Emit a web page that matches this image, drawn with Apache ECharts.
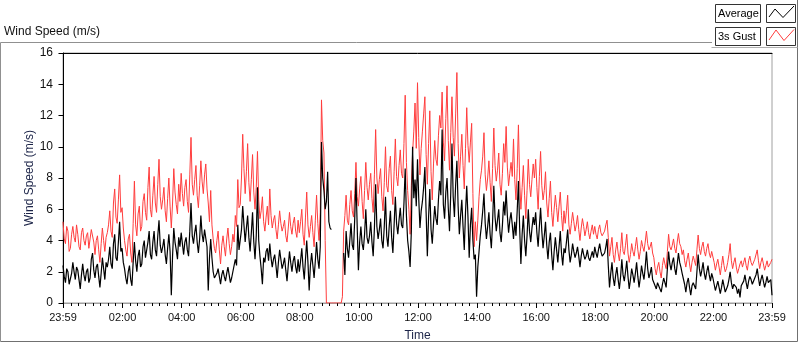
<!DOCTYPE html>
<html>
<head>
<meta charset="utf-8">
<script src="https://cdn.jsdelivr.net/npm/echarts@6/dist/echarts.min.js"></script>
<style>
html, body { margin: 0; padding: 0; background: #fff; }
#chart { width: 800px; height: 342px; }
</style>
</head>
<body>
<div id="chart"></div>
<script>
// 3s gust (m/s), one value every 2.5 minutes from 23:59 to 23:59, one row per hour
const gust = [
    5.2, 4.1, 3.8, 4.9, 4.6, 3.3, 3.5, 4.4, 4.9, 4.2, 3.9, 5.0, 4.4, 3.6, 3.4, 4.5, 4.8, 4.0, 3.7, 4.3, 4.5, 3.5, 3.6, 4.7,
    4.7, 3.9, 3.1, 4.0, 4.3, 3.4, 2.6, 3.8, 4.8, 4.0, 3.3, 4.2, 4.5, 5.0, 5.9, 4.6, 4.2, 6.4, 7.3, 5.5, 5.1, 6.6, 8.2, 5.8,
    6.1, 4.8, 4.0, 3.4, 3.0, 4.1, 4.4, 3.2, 2.6, 5.1, 7.8, 5.0, 4.3, 5.7, 6.2, 4.6, 4.9, 6.5, 7.0, 5.8, 5.3, 7.4, 8.7, 6.0,
    5.5, 6.9, 8.1, 6.4, 5.8, 7.6, 9.2, 6.8, 6.0, 6.6, 7.4, 5.9, 5.2, 6.7, 8.0, 6.2, 4.8, 6.4, 8.6, 7.1, 6.3, 5.7, 7.6, 6.5,
    8.3, 7.0, 6.2, 7.4, 7.9, 6.5, 5.8, 8.2, 10.6, 7.6, 6.9, 7.9, 8.8, 6.9, 6.1, 7.5, 9.1, 7.8, 7.0, 8.2, 8.9, 7.3, 6.4, 5.2,
    7.2, 5.0, 4.1, 3.5, 3.2, 4.0, 4.6, 3.4, 2.5, 3.7, 4.3, 3.6, 3.0, 4.1, 4.8, 3.8, 3.1, 3.6, 4.4, 3.9, 5.6, 4.9, 7.9, 6.1,
    6.3, 8.0, 10.8, 8.6, 7.0, 8.4, 10.2, 7.7, 6.5, 7.9, 9.5, 7.1, 6.0, 7.4, 9.7, 6.6, 5.4, 5.9, 6.8, 5.2, 4.6, 5.5, 6.2, 5.0,
    7.3, 5.6, 4.8, 5.3, 5.6, 4.7, 4.1, 5.0, 5.9, 5.1, 4.6, 4.9, 5.3, 4.3, 3.9, 4.8, 5.8, 4.9, 4.4, 5.1, 5.5, 4.6, 4.2, 5.3,
    4.5, 5.2, 6.0, 4.4, 3.7, 5.5, 7.1, 5.0, 4.2, 4.9, 5.6, 4.5, 3.6, 5.3, 6.9, 5.1, 4.0, 5.8, 13.0, 10.4, 9.6, 4.0, 0, 0,
    0, 0, 0, 0, 0, 0, 0, 0, 0, 0, 0, 0.4, 4.6, 5.6, 6.9, 5.3, 5.0, 6.3, 7.2, 5.9, 5.5, 7.0, 9.0, 6.8,
    6.2, 7.3, 8.1, 6.5, 5.4, 7.2, 9.0, 7.4, 6.6, 7.6, 8.3, 6.7, 5.8, 8.2, 11.1, 8.0, 7.0, 7.9, 8.6, 6.8, 5.9, 7.7, 10.0, 7.5,
    7.1, 8.6, 9.4, 7.2, 6.3, 8.4, 10.5, 8.1, 7.5, 8.8, 9.8, 8.3, 8.0, 10.2, 13.3, 9.0, 7.2, 6.0, 4.4, 7.5, 9.6, 11.0, 12.8, 9.9,
    14.1, 10.6, 8.2, 9.9, 11.0, 12.1, 13.2, 9.5, 7.6, 10.2, 12.3, 8.4, 6.6, 8.9, 10.4, 9.2, 8.8, 10.7, 12.0, 11.2, 13.5, 10.3, 9.1, 11.8,
    13.9, 10.4, 8.5, 10.9, 13.2, 10.6, 9.4, 12.1, 14.75, 10.2, 8.0, 9.4, 10.8, 8.8, 7.3, 9.9, 12.5, 10.1, 9.0, 10.3, 11.5, 7.0, 3.6, 5.2,
    4.0, 5.3, 6.8, 7.9, 8.5, 9.4, 10.9, 8.2, 7.2, 8.0, 9.1, 7.7, 6.5, 8.6, 11.2, 8.8, 7.8, 8.5, 9.6, 7.6, 6.9, 8.3, 10.2, 9.0,
    11.3, 8.7, 7.5, 8.3, 9.0, 8.1, 10.5, 7.9, 6.6, 8.6, 11.4, 7.8, 6.0, 7.4, 8.8, 6.9, 5.4, 7.2, 9.2, 7.6, 6.8, 7.9, 8.9, 8.0,
    9.2, 7.4, 6.0, 8.1, 9.7, 7.5, 6.6, 7.2, 8.4, 6.4, 5.5, 6.7, 7.8, 5.8, 4.9, 6.0, 6.9, 6.1, 5.2, 6.2, 7.1, 5.6, 4.6, 5.9,
    5.1, 5.9, 6.9, 5.0, 4.4, 5.1, 5.8, 5.2, 4.6, 5.0, 5.6, 4.7, 4.0, 4.8, 5.4, 4.9, 4.3, 4.7, 5.2, 4.5, 4.1, 4.6, 5.0, 4.4,
    4.9, 4.4, 4.1, 4.7, 5.0, 4.5, 4.3, 4.4, 4.6, 5.0, 5.3, 4.2, 3.0, 3.6, 4.2, 3.1, 2.6, 3.4, 3.9, 3.2, 2.7, 3.5, 4.5, 3.3,
    3.1, 3.7, 4.4, 3.2, 2.6, 3.1, 3.8, 3.3, 3.0, 3.6, 4.2, 3.4, 2.8, 3.3, 4.0, 3.6, 3.3, 3.9, 4.6, 3.8, 3.4, 3.6, 3.9, 3.2,
    2.9, 2.2, 1.8, 2.3, 2.6, 2.0, 1.6, 2.4, 2.9, 2.5, 2.2, 3.3, 4.4, 3.6, 3.4, 3.7, 4.1, 3.5, 3.2, 3.9, 4.45, 3.8, 3.6, 3.1,
    3.4, 2.7, 2.3, 2.8, 3.2, 2.5, 2.0, 2.6, 3.0, 2.7, 2.4, 3.4, 4.35, 3.5, 3.1, 3.6, 3.9, 3.3, 3.0, 3.5, 3.8, 3.2, 2.9, 3.3,
    3.2, 2.6, 2.1, 2.5, 2.8, 2.3, 1.8, 2.4, 3.0, 2.4, 2.0, 2.2, 2.6, 3.1, 3.8, 2.7, 2.2, 2.6, 2.9, 2.3, 1.9, 2.2, 2.5, 2.7,
    2.3, 2.6, 2.9, 2.4, 2.1, 2.7, 3.0, 2.6, 2.4, 2.5, 2.8, 2.9, 3.4, 2.7, 2.2, 2.6, 2.9, 2.5, 2.1, 2.4, 2.7, 2.3, 2.4, 2.6, 2.8
]

// average wind speed (m/s), same sample times; null = no reading
const average = [
    2.4, 1.7, 1.3, 2.2, 2.0, 1.2, 1.1, 1.9, 2.6, 2.0, 1.5, 2.3, 2.1, 1.5, 0.9, 1.8, 2.5, 1.8, 1.4, 2.0, 2.2, 1.3, 1.6, 2.8,
    3.2, 2.1, 1.6, 2.3, 2.5, 1.7, 1.0, 1.9, 2.9, 2.2, 1.5, 2.6, 2.3, 2.8, 3.6, 2.5, 2.2, 3.8, 4.4, 2.9, 2.7, 3.9, 5.2, 3.3,
    3.5, 2.6, 2.2, 1.6, 1.2, 2.0, 2.4, 1.5, 1.1, 2.6, 3.9, 2.7, 2.0, 3.0, 3.4, 2.3, 2.5, 3.6, 4.0, 2.9, 2.8, 3.9, 4.6, 3.1,
    2.8, 3.9, 4.6, 3.4, 3.0, 4.3, 5.3, 3.7, 3.2, 3.6, 4.1, 3.1, 2.5, 3.5, 4.4, 3.3, 0.5, 3.0, 4.8, 3.9, 3.4, 2.8, 4.2, 3.6,
    4.5, 3.8, 3.1, 3.9, 4.2, 3.4, 3.0, 4.6, 6.4, 4.3, 3.8, 4.5, 5.0, 3.9, 3.2, 4.1, 5.6, 4.4, 3.9, 4.7, 4.8, 3.6, 0.8, 2.9,
    4.1, 2.9, 2.0, 1.6, 1.5, 1.9, 2.2, 1.7, 1.2, 1.8, 2.1, 1.7, 1.4, 1.9, 2.3, 1.8, 1.3, 1.6, 2.0, 1.9, 2.8, 2.4, 5.0, 3.4,
    3.4, 4.7, 6.2, 5.0, 3.9, 4.8, 5.6, 4.2, 3.3, 4.5, 5.8, 3.9, 2.8, 4.3, 7.4, 4.0, 3.0, 2.2, 1.2, 2.9, 2.6, 3.3, 3.5, 2.7,
    3.8, 2.9, 2.3, 2.8, 3.1, 2.4, 1.6, 2.6, 3.4, 2.8, 2.2, 2.5, 2.9, 2.1, 1.4, 2.4, 3.3, 2.6, 2.0, 2.7, 3.0, 2.3, 1.9, 2.8,
    2.0, 2.7, 3.5, 2.3, 1.5, 2.8, 4.0, 2.6, 0.8, 2.4, 3.2, 2.4, 1.6, 2.7, 3.9, 2.8, 2.2, 3.6, 10.3, 8.0, 7.2, 6.0, 6.5, 8.4,
    5.2, 4.8, 4.7, null, null, null, null, null, null, null, null, null, 3.2, 1.8, 4.6, 3.5, 2.9, 4.0, 5.1, 3.7, 3.4, 5.4, 8.0, 4.9,
    2.1, 3.9, 4.9, 3.8, 3.4, 4.4, 6.0, 4.2, 3.8, 4.3, 5.2, 3.9, 3.0, 4.8, 7.6, 4.9, 4.1, 4.7, 5.4, 4.0, 3.5, 4.9, 6.8, 4.3,
    3.6, 4.9, 5.9, 4.2, 3.2, 5.0, 6.8, 5.1, 4.4, 5.3, 6.1, 5.0, 4.8, 6.4, 8.6, 5.6, 4.0, 3.3, 2.3, 4.6, 10.0, 6.7, 7.9, 6.2,
    9.2, 6.7, 4.8, 5.9, 6.5, 7.4, 8.7, 5.8, 3.0, 5.5, 7.3, 4.7, 3.8, 5.1, 6.2, 5.4, 5.0, 6.6, 7.8, 6.9, 11.1, 6.3, 5.4, 7.1,
    8.0, 6.1, 4.6, 7.0, 10.2, 6.8, 5.5, 7.6, 9.1, 6.2, 4.4, 5.6, 6.6, 4.9, 3.4, 5.8, 7.5, 5.5, 2.9, 5.0, 6.1, 4.0, 2.8, 3.1,
    0.4, 2.3, 3.3, 4.3, 5.0, 5.9, 7.0, 5.1, 4.1, 4.9, 5.8, 4.4, 3.5, 5.2, 7.5, 5.5, 4.6, 5.3, 6.0, 4.5, 3.9, 5.0, 6.5, 5.6,
    7.2, 5.6, 4.5, 5.3, 5.8, 5.0, 4.1, 5.2, 4.3, 5.9, 7.8, 4.8, 2.5, 4.4, 5.6, 4.0, 3.0, 4.3, 6.0, 4.6, 3.9, 4.8, 5.5, 5.0,
    5.8, 4.5, 3.6, 4.9, 6.1, 4.6, 3.5, 4.3, 5.2, 3.7, 2.8, 3.9, 4.5, 3.1, 2.1, 3.3, 4.2, 3.4, 2.6, 3.6, 4.6, 3.2, 2.4, 3.5,
    3.2, 3.9, 4.7, 3.4, 2.6, 3.1, 3.8, 3.3, 2.9, 3.2, 3.6, 3.0, 2.3, 3.0, 3.5, 3.1, 2.8, 3.0, 3.4, 2.9, 2.7, 3.0, 3.3, 2.9,
    3.6, 3.2, 2.9, 3.4, 3.8, 3.3, 3.0, 3.1, 3.2, 3.6, 4.1, 2.4, 1.0, 1.9, 2.6, 1.6, 1.1, 1.8, 2.3, 1.5, 0.9, 1.7, 2.8, 1.8,
    1.4, 2.0, 2.7, 1.7, 0.9, 1.5, 2.2, 1.8, 1.3, 1.9, 2.6, 1.7, 1.0, 1.6, 2.4, 1.9, 1.5, 2.3, 3.3, 2.2, 1.6, 1.9, 2.3, 1.5,
    1.4, 1.1, 0.9, 1.3, 1.2, 0.9, 0.7, 1.2, 1.6, 1.3, 1.0, 2.2, 3.3, 2.5, 2.1, 2.6, 2.9, 2.2, 1.8, 2.5, 3.2, 2.6, 2.3, 1.9,
    1.8, 1.2, 0.7, 1.3, 1.6, 1.0, 0.5, 1.1, 1.3, 1.2, 0.9, 2.0, 3.1, 2.2, 1.7, 2.1, 2.6, 1.9, 1.5, 2.0, 2.4, 1.8, 1.4, 1.9,
    1.6, 1.2, 0.8, 1.1, 1.4, 1.0, 0.6, 1.0, 1.5, 1.1, 0.7, 0.9, 1.1, 1.5, 2.0, 1.3, 0.9, 1.2, 1.3, 1.0, 0.6, 0.9, 0.35, 1.1,
    1.0, 1.4, 1.8, 1.3, 0.9, 1.4, 1.7, 1.5, 1.2, 1.3, 1.6, 1.8, 2.2, 1.6, 1.1, 1.5, 1.8, 1.4, 1.0, 1.3, 1.7, 1.3, 1.2, 1.5, 0.5
]

// minutes after midnight; 23:59 of the previous day is -1
const sampleMinutes = gust.map((_, i) => i * 2.5 - 1)

const timeTicks = [-1, 120, 240, 360, 480, 600, 720, 840, 960, 1080, 1200, 1320, 1439]
const timeLabels = ["23:59", "02:00", "04:00", "06:00", "08:00", "10:00", "12:00",
    "14:00", "16:00", "18:00", "20:00", "22:00", "23:59"]

// small ticks every quarter hour
const quarterTicks = []
for (let m = 15; m < 1439; m += 15) {
    if (m % 120 !== 0) quarterTicks.push(m)
}

const font = "Liberation Sans"
const inkColor = "#111"
const nameColor = "#1c2448"
const gustColor = "#ff3d3d"

const chart = echarts.init(document.getElementById("chart"), null, { renderer: "canvas" })

chart.setOption({
    animation: false,
    textStyle: { fontFamily: font },
    grid: {
        left: 63,
        right: 28,
        top: 53,
        bottom: 39,
        outerBoundsMode: "none",
        show: true,
        borderColor: "#a0a0a0",
        borderWidth: 1,
    },
    xAxis: [
        {
            type: "value",
            min: -1,
            max: 1439,
            name: "Time",
            nameLocation: "middle",
            nameGap: 27,
            nameMoveOverlap: false,
            nameTextStyle: { color: nameColor, fontSize: 12, fontFamily: font },
            axisLine: { show: true, lineStyle: { color: "#a0a0a0", width: 1 } },
            axisTick: { show: true, customValues: timeTicks, length: 5, lineStyle: { color: "#000" } },
            axisLabel: {
                customValues: timeTicks,
                margin: 9,
                color: inkColor,
                fontSize: 11,
                fontFamily: font,
                formatter: v => timeLabels[timeTicks.indexOf(Math.round(v))] ?? "",
            },
            splitLine: { show: false },
        },
        {
            type: "value",
            min: -1,
            max: 1439,
            position: "bottom",
            axisLine: { show: false },
            axisTick: { show: true, customValues: quarterTicks, length: 3, lineStyle: { color: "#000" } },
            axisLabel: { show: false },
            splitLine: { show: false },
        },
        {
            type: "value",
            min: -1,
            max: 1439,
            position: "top",
            axisLine: { show: true, lineStyle: { color: "#000", width: 1 } },
            axisTick: { show: false },
            axisLabel: { show: false },
            splitLine: { show: false },
        },
    ],
    yAxis: {
        type: "value",
        min: 0,
        max: 16,
        interval: 2,
        name: "Wind Speed (m/s)",
        nameLocation: "middle",
        nameGap: 27,
        nameMoveOverlap: false,
        nameTextStyle: { color: nameColor, fontSize: 12, fontFamily: font },
        axisLine: { show: true, lineStyle: { color: "#000", width: 1 } },
        axisTick: { show: true, length: 5, lineStyle: { color: "#000" } },
        axisLabel: { margin: 10, color: inkColor, fontSize: 12, fontFamily: font },
        splitLine: { show: false },
    },
    series: [
        {
            name: "3s Gust",
            type: "line",
            showSymbol: false,
            sampling: "none",
            data: sampleMinutes.map((m, i) => [m, gust[i]]),
            lineStyle: { width: 1, color: gustColor },
            itemStyle: { color: gustColor },
        },
        {
            name: "Average",
            type: "line",
            showSymbol: false,
            sampling: "none",
            connectNulls: false,
            data: sampleMinutes.map((m, i) => [m, average[i]]),
            lineStyle: { width: 1.2, color: "#000" },
            itemStyle: { color: "#000" },
        },
    ],
    graphic: [
        // outer frame of the control
        {
            type: "polyline",
            shape: { points: [[712, 42.5], [0.5, 42.5], [0.5, 341.5]] },
            style: { stroke: "#909090", fill: null, lineWidth: 1 },
        },
        {
            type: "polyline",
            shape: { points: [[0.5, 341.5], [797.5, 341.5], [797.5, 0]] },
            style: { stroke: "#707070", fill: null, lineWidth: 1 },
        },
        {
            type: "polyline",
            shape: { points: [[711.5, 47.5], [797.5, 47.5]] },
            style: { stroke: "#b0b0b0", fill: null, lineWidth: 1 },
        },
        {
            type: "text",
            left: 4,
            top: 26,
            style: { text: "Wind Speed (m/s)", font: `12px "${font}"`, fill: inkColor },
        },
        // legend
        {
            type: "rect",
            shape: { x: 715.5, y: 4.5, width: 45, height: 18 },
            style: { stroke: "#333", fill: "#fff", lineWidth: 1 },
        },
        {
            type: "text",
            x: 718,
            y: 14,
            style: { text: "Average", font: `11px "${font}"`, fill: "#000", textVerticalAlign: "middle" },
        },
        {
            type: "rect",
            shape: { x: 766.5, y: 4.5, width: 29, height: 18 },
            style: { stroke: "#333", fill: "#fff", lineWidth: 1 },
        },
        {
            type: "polyline",
            shape: { points: [[769, 17], [775, 9], [783, 17.5], [794, 6]] },
            style: { stroke: "#000", fill: null, lineWidth: 1 },
        },
        {
            type: "rect",
            shape: { x: 715.5, y: 27.5, width: 45, height: 18 },
            style: { stroke: "#333", fill: "#fff", lineWidth: 1 },
        },
        {
            type: "text",
            x: 718,
            y: 37,
            style: { text: "3s Gust", font: `11px "${font}"`, fill: "#000", textVerticalAlign: "middle" },
        },
        {
            type: "rect",
            shape: { x: 766.5, y: 27.5, width: 29, height: 18 },
            style: { stroke: "#333", fill: "#fff", lineWidth: 1 },
        },
        {
            type: "polyline",
            shape: { points: [[769, 40], [776, 30], [784, 40.5], [794, 29.5]] },
            style: { stroke: gustColor, fill: null, lineWidth: 1 },
        },
    ],
})
</script>
</body>
</html>
